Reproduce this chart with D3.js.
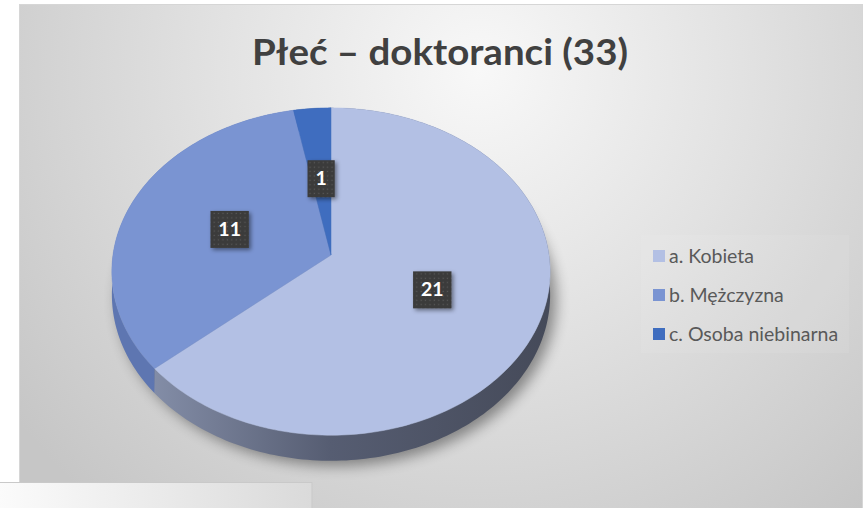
<!DOCTYPE html>
<html>
<head>
<meta charset="utf-8">
<script src="https://cdn.jsdelivr.net/npm/d3@7"></script>
<style>
  body { margin: 0; background: #fff; }
  svg { display: block; }
</style>
</head>
<body>
<svg id="chart" width="867" height="508"></svg>
<script>
// data
var title = "Płeć – doktoranci (33)";
var categories = ["a. Kobieta", "b. Mężczyzna", "c. Osoba niebinarna"];
var counts = [21, 11, 1];

var topColors = ["#b3c0e4", "#7a94d2", "#3f6dbf"];
var wallStops = [
        ["#848ea8", "#565d72", "#454a59"],
        ["#5e76b1", "#5067a3", "#4a5f98"],
        ["#36589a", "#30508d", "#2c4a85"]
];

var svg = d3.select("#chart");
var defs = svg.append("defs");

// ## 3D projection
// angle 0 = back of the pie, clockwise; r in 0..1; drop = px below the top face
var cx = 331, cy = 255, rx = 218, ry = 162, persp = 0.101, depth = 23;

function proj(a, r, drop) {
        var k = r * Math.cos(a);
        var s = 1 / (1 + persp * k);
        return [cx + rx * r * Math.sin(a) * s, cy - ry * k * s + (drop || 0) * s];
}

function arcPoints(a0, a1, drop) {
        var n = Math.max(2, Math.ceil(Math.abs(a1 - a0) / 0.02));
        return d3.range(n + 1).map(function (i) {
                return proj(a0 + (a1 - a0) * i / n, 1, drop);
        });
}

var line = d3.line();

// background
var bg = defs.append("radialGradient")
        .attr("id", "bg")
        .attr("gradientUnits", "userSpaceOnUse")
        .attr("cx", 480).attr("cy", 70).attr("r", 580);
bg.append("stop").attr("offset", 0).attr("stop-color", "#f8f8f8");
bg.append("stop").attr("offset", 0.45).attr("stop-color", "#e2e2e2");
bg.append("stop").attr("offset", 1).attr("stop-color", "#c6c6c6");

svg.append("rect")
        .attr("x", 19.5).attr("y", 4.5)
        .attr("width", 843).attr("height", 510)
        .attr("fill", "url(#bg)")
        .attr("stroke", "#d6d6d6");

var foot = defs.append("linearGradient").attr("id", "foot");
foot.append("stop").attr("offset", 0).attr("stop-color", "#fbfbfb");
foot.append("stop").attr("offset", 1).attr("stop-color", "#dadada");

svg.append("rect")
        .attr("x", -1).attr("y", 482.5)
        .attr("width", 313).attr("height", 30)
        .attr("fill", "url(#foot)")
        .attr("stroke", "#c9c9c9");

// title
svg.append("text")
        .attr("x", 440).attr("y", 65)
        .attr("text-anchor", "middle")
        .attr("font-family", "Lato, 'Open Sans', sans-serif")
        .attr("font-weight", "bold")
        .attr("font-size", 37)
        .attr("textLength", 376)
        .attr("lengthAdjust", "spacingAndGlyphs")
        .attr("fill", "#404040")
        .text(title);

// ## Pie
var pie = d3.pie().sort(null).value(function (d) { return d; });
var arcs = pie(counts);
var color = d3.scaleOrdinal().domain(categories).range(topColors);

var shadow = defs.append("filter").attr("id", "pieShadow")
        .attr("x", -0.2).attr("y", -0.2).attr("width", 1.4).attr("height", 1.4);
shadow.append("feGaussianBlur").attr("stdDeviation", 7);

var pieGroup = svg.append("g");

// soft shadow under the whole pie
var outline = arcPoints(0, Math.PI, depth).concat(arcPoints(Math.PI, 2 * Math.PI, depth))
        .map(function (p) { return [p[0] + 6, p[1] + 5]; });
pieGroup.append("path")
        .attr("d", line(outline) + "Z")
        .attr("fill", "#000")
        .attr("opacity", 0.4)
        .attr("filter", "url(#pieShadow)");

// walls
arcs.forEach(function (d, i) {
        var g = defs.append("linearGradient")
                .attr("id", "wall" + i)
                .attr("gradientUnits", "userSpaceOnUse")
                .attr("x1", 150).attr("x2", 550).attr("y1", 0).attr("y2", 0);
        g.append("stop").attr("offset", 0).attr("stop-color", wallStops[i][0]);
        g.append("stop").attr("offset", 0.45).attr("stop-color", wallStops[i][1]);
        g.append("stop").attr("offset", 1).attr("stop-color", wallStops[i][2]);
});

pieGroup.selectAll("path.wall")
        .data(arcs)
        .enter()
        .append("path")
        .attr("class", "wall")
        .attr("d", function (d) {
                var pts = arcPoints(d.startAngle, d.endAngle, 0)
                        .concat(arcPoints(d.endAngle, d.startAngle, depth));
                return line(pts) + "Z";
        })
        .attr("fill", function (d, i) { return "url(#wall" + i + ")"; });

// top faces
pieGroup.selectAll("path.face")
        .data(arcs)
        .enter()
        .append("path")
        .attr("class", "face")
        .attr("d", function (d) {
                var pts = [proj(0, 0)].concat(arcPoints(d.startAngle, d.endAngle, 0));
                return line(pts) + "Z";
        })
        .attr("fill", function (d, i) { return color(categories[i]); })
        .attr("stroke", function (d, i) { return color(categories[i]); })
        .attr("stroke-width", 0.5);

// ## Data labels
var dots = defs.append("pattern")
        .attr("id", "dots")
        .attr("patternUnits", "userSpaceOnUse")
        .attr("width", 4.4).attr("height", 4.4);
dots.append("rect").attr("width", 4.4).attr("height", 4.4).attr("fill", "#3b3b3b");
dots.append("rect").attr("x", 1.5).attr("y", 1.5).attr("width", 1.2).attr("height", 1.2).attr("fill", "#5a5a5a");

var lblShadow = defs.append("filter").attr("id", "lblShadow")
        .attr("x", -0.3).attr("y", -0.3).attr("width", 1.6).attr("height", 1.6);
lblShadow.append("feDropShadow")
        .attr("dx", 2).attr("dy", 2).attr("stdDeviation", 2)
        .attr("flood-color", "#000").attr("flood-opacity", 0.45);

var labels = svg.selectAll("g.label")
        .data(arcs)
        .enter()
        .append("g")
        .attr("class", "label")
        .attr("transform", function (d) {
                var p = proj((d.startAngle + d.endAngle) / 2, 0.5, 0);
                return "translate(" + p[0] + "," + p[1] + ")";
        });

labels.append("rect")
        .attr("x", function (d) { return -(String(d.value).length * 5.6 + 8); })
        .attr("y", -18)
        .attr("width", function (d) { return 2 * (String(d.value).length * 5.6 + 8); })
        .attr("height", 37)
        .attr("fill", "url(#dots)")
        .attr("filter", "url(#lblShadow)");

labels.append("text")
        .attr("text-anchor", "middle")
        .attr("y", 7)
        .attr("font-family", "Lato, 'Open Sans', sans-serif")
        .attr("font-weight", "bold")
        .attr("font-size", 19.5)
        .attr("fill", "#fff")
        .text(function (d) { return d.value; });

// ## Legend
var legend = svg.append("g").attr("transform", "translate(641,235)");

legend.append("rect")
        .attr("width", 208).attr("height", 118)
        .attr("fill", "#fff").attr("opacity", 0.07);

var rows = legend.selectAll("g.row")
        .data(categories)
        .enter()
        .append("g")
        .attr("class", "row")
        .attr("transform", function (d, i) { return "translate(12," + (21 + i * 39) + ")"; });

rows.append("rect")
        .attr("x", 0).attr("y", -6)
        .attr("width", 12).attr("height", 12)
        .attr("fill", function (d) { return color(d); });

rows.append("text")
        .attr("x", 16).attr("y", 6.5)
        .attr("font-family", "Lato, 'Open Sans', sans-serif")
        .attr("font-size", 19.5)
        .attr("fill", "#595959")
        .text(function (d) { return d; });
</script>
</body>
</html>
